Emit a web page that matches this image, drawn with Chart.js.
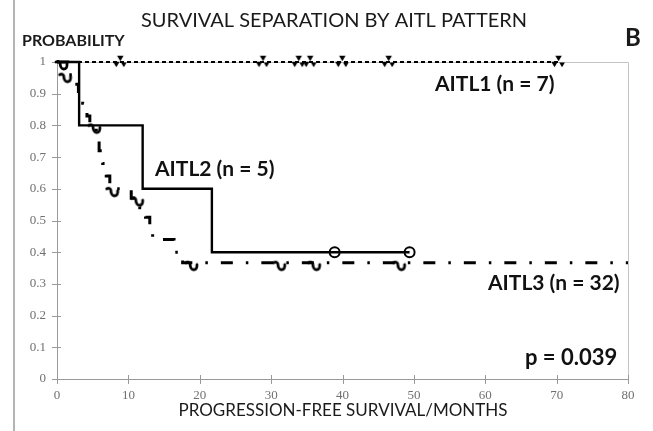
<!DOCTYPE html>
<html>
<head>
<meta charset="utf-8">
<script src="https://cdn.jsdelivr.net/npm/chart.js@4.4.1/dist/chart.umd.min.js"></script>
<style>
  html, body { margin: 0; padding: 0; background: #ffffff; }
  canvas { display: block; }
</style>
</head>
<body>
<canvas id="km" width="653" height="431"></canvas>
<script>
// Kaplan-Meier progression-free survival by AITL pattern
const monthTicks = [0, 10, 20, 30, 40, 50, 60, 70, 80];
const probabilityTicks = [0, 0.1, 0.2, 0.3, 0.4, 0.5, 0.6, 0.7, 0.8, 0.9, 1];
const probabilityLabels = ['0', '0.1', '0.2', '0.3', '0.4', '0.5', '0.6', '0.7', '0.8', '0.9', '1'];

// AITL1: no events, 7 censored patients
const aitl1Months = [0, 70.2];
const aitl1Survival = [1, 1];
const aitl1CensorMonths = [8.8, 28.8, 33.8, 35.4, 39.9, 46.4, 70.2];
const aitl1CensorSurvival = [1, 1, 1, 1, 1, 1, 1];

// AITL2: 3 events, 2 censored
const aitl2Months = [0, 3.1, 12.0, 21.7, 49.4];
const aitl2Survival = [1, 0.8, 0.6, 0.4, 0.4];
const aitl2CensorMonths = [38.9, 49.4];
const aitl2CensorSurvival = [0.4, 0.4];

// AITL3: 32 patients
const aitl3Months = [0, 1.5, 2.5, 3.0, 3.6, 4.2, 4.6, 5.5, 5.9, 6.4, 6.9, 7.4, 10.4, 11.6, 12.4, 13.0, 13.4, 16.4, 17.6, 80];
const aitl3Survival = [1, 0.96, 0.93, 0.90, 0.87, 0.83, 0.80, 0.76, 0.72, 0.68, 0.64, 0.60, 0.57, 0.54, 0.51, 0.48, 0.44, 0.40, 0.367, 0.367];
const aitl3CensorMonths = [0.7, 1.2, 5.3, 7.8, 11.3, 18.9, 31.2, 36.1, 48.0];
const aitl3CensorSurvival = [1.0, 0.96, 0.80, 0.60, 0.57, 0.367, 0.367, 0.367, 0.367];

const pairs = (xs, ys) => xs.map((x, i) => ({ x: x, y: ys[i] }));

// small curled tick used as the AITL3 censor glyph
function hookGlyph() {
  const c = document.createElement('canvas');
  c.width = 16; c.height = 20;
  const g = c.getContext('2d');
  g.strokeStyle = '#000';
  g.lineWidth = 2.8;
  g.lineCap = 'round';
  g.beginPath();
  g.moveTo(2, 10);
  g.quadraticCurveTo(5, 8.5, 6, 11);
  g.quadraticCurveTo(6.5, 17, 9.5, 17);
  g.quadraticCurveTo(13.5, 17, 13, 12);
  g.stroke();
  return c;
}

// cluster of small down-pointing triangles used as the AITL1 censor glyph
function triGlyph() {
  const c = document.createElement('canvas');
  c.width = 16; c.height = 16;
  const g = c.getContext('2d');
  g.fillStyle = '#000';
  const tri = (cx, cy, s) => {
    g.beginPath();
    g.moveTo(cx - s, cy - s * 0.7);
    g.lineTo(cx + s, cy - s * 0.7);
    g.lineTo(cx, cy + s);
    g.closePath();
    g.fill();
  };
  tri(8.5, 4, 3.2);
  tri(4.5, 10, 3.2);
  tri(12, 10.5, 2.8);
  return c;
}

const hook = hookGlyph();
const tris = triGlyph();

const framePlugin = {
  id: 'frame',
  beforeDatasetsDraw(chart) {
    const { ctx, chartArea: a, scales } = chart;
    ctx.save();
    // page rule on the left
    ctx.strokeStyle = '#b4b4b4';
    ctx.lineWidth = 2;
    ctx.beginPath();
    ctx.moveTo(14, 0);
    ctx.lineTo(14, 431);
    ctx.stroke();
    // plot box top and right edges
    ctx.strokeStyle = '#c4c4c4';
    ctx.lineWidth = 1;
    ctx.beginPath();
    ctx.moveTo(a.left, a.top + 0.5);
    ctx.lineTo(a.right + 0.5, a.top + 0.5);
    ctx.lineTo(a.right + 0.5, a.bottom);
    ctx.stroke();
    // cross tick marks on both axes
    ctx.strokeStyle = '#9a9a9a';
    ctx.beginPath();
    scales.x.ticks.forEach(t => {
      const px = Math.round(scales.x.getPixelForValue(t.value)) + 0.5;
      ctx.moveTo(px, a.bottom - 4);
      ctx.lineTo(px, a.bottom + 5);
    });
    scales.y.ticks.forEach(t => {
      const py = Math.round(scales.y.getPixelForValue(t.value)) + 0.5;
      ctx.moveTo(a.left - 5, py);
      ctx.lineTo(a.left + 4, py);
    });
    ctx.stroke();
    ctx.restore();
  },
  afterDraw(chart) {
    const ctx = chart.ctx;
    ctx.save();
    ctx.textBaseline = 'middle';
    ctx.fillStyle = '#1a1a1a';
    ctx.textAlign = 'center';
    ctx.font = '400 20px Lato, "Open Sans", sans-serif';
    ctx.fillText('SURVIVAL SEPARATION BY AITL PATTERN', 334, 21);
    ctx.font = '400 17px Lato, "Open Sans", sans-serif';
    ctx.fillText('PROGRESSION-FREE SURVIVAL/MONTHS', 343, 411);
    ctx.textAlign = 'left';
    ctx.font = '700 16px Lato, "Open Sans", sans-serif';
    ctx.fillText('PROBABILITY', 22, 41);
    ctx.font = '700 24px Lato, "Open Sans", sans-serif';
    ctx.fillText('B', 625, 38);
    ctx.fillStyle = '#111';
    ctx.font = '700 21px Lato, "Open Sans", sans-serif';
    ctx.fillText('AITL1 (n = 7)', 435, 84);
    ctx.fillText('AITL2 (n = 5)', 155, 169);
    ctx.fillText('AITL3 (n = 32)', 488, 283);
    ctx.font = '700 22px Lato, "Open Sans", sans-serif';
    ctx.fillText('p = 0.039', 525, 358);
    ctx.restore();
  }
};

new Chart(document.getElementById('km'), {
  type: 'line',
  data: {
    datasets: [
      {
        label: 'AITL3 censored',
        data: pairs(aitl3CensorMonths, aitl3CensorSurvival),
        showLine: false,
        pointStyle: hook,
        pointRadius: 6,
        clip: false
      },
      {
        label: 'AITL3',
        data: pairs(aitl3Months, aitl3Survival),
        stepped: true,
        borderColor: '#000',
        borderWidth: 3,
        borderDash: [12, 13, 2.5, 13],
        pointRadius: 0,
        clip: false
      },
      {
        label: 'AITL1',
        data: pairs(aitl1Months, aitl1Survival),
        borderColor: '#000',
        borderWidth: 2,
        borderDash: [4, 3],
        pointRadius: 0,
        clip: false
      },
      {
        label: 'AITL1 censored',
        data: pairs(aitl1CensorMonths, aitl1CensorSurvival),
        showLine: false,
        pointStyle: tris,
        pointRadius: 6,
        clip: false
      },
      {
        label: 'AITL2',
        data: pairs(aitl2Months, aitl2Survival),
        stepped: true,
        borderColor: '#000',
        borderWidth: 2.4,
        pointRadius: 0,
        clip: false
      },
      {
        label: 'AITL2 censored',
        data: pairs(aitl2CensorMonths, aitl2CensorSurvival),
        showLine: false,
        pointStyle: 'circle',
        pointRadius: 5,
        pointBackgroundColor: '#fff',
        pointBorderColor: '#000',
        pointBorderWidth: 2,
        clip: false
      }
    ]
  },
  options: {
    responsive: false,
    animation: false,
    events: [],
    layout: { padding: { left: 0, right: 25, top: 62, bottom: 0 } },
    plugins: { legend: { display: false }, tooltip: { enabled: false }, title: { display: false } },
    scales: {
      x: {
        type: 'linear',
        min: 0,
        max: 80,
        afterBuildTicks: s => { s.ticks = monthTicks.map(v => ({ value: v })); },
        afterFit: s => { s.height = 52; },
        grid: { display: false, drawTicks: false },
        border: { display: true, color: '#9a9a9a', width: 1 },
        ticks: {
          padding: 9,
          color: '#707070',
          font: { family: '"Liberation Serif", serif', size: 13 },
          maxRotation: 0,
          callback: v => String(v)
        }
      },
      y: {
        type: 'linear',
        min: 0,
        max: 1,
        afterBuildTicks: s => { s.ticks = probabilityTicks.map(v => ({ value: v })); },
        afterFit: s => { s.width = 57; },
        grid: { display: false, drawTicks: false },
        border: { display: true, color: '#9a9a9a', width: 1 },
        ticks: {
          padding: 11,
          color: '#707070',
          font: { family: '"Liberation Serif", serif', size: 13 },
          callback: (v, i) => probabilityLabels[i]
        }
      }
    }
  },
  plugins: [framePlugin]
});
</script>
</body>
</html>
